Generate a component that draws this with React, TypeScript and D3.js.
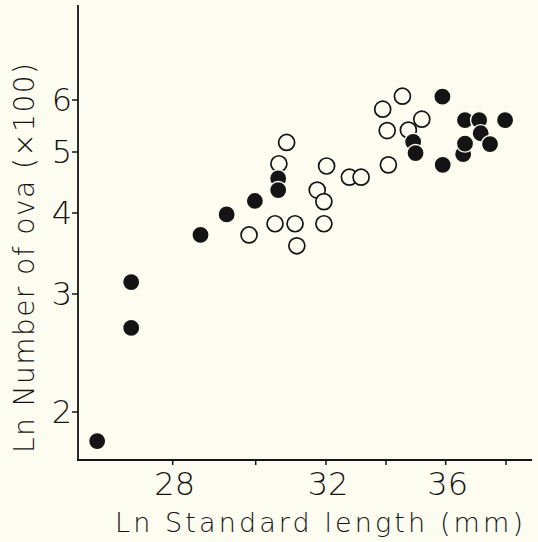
import React from 'react';
import * as d3 from 'd3';

// x ticks (mm) and y ticks (x100 ova)
const xTickValues = [28, 30, 32, 34, 36, 38];
const xTickLabels = [28, 32, 36];
const yTickValues = [2, 3, 4, 5, 6];

// filled circles: [standard length, ova x100]
const filledPoints: [number, number][] = [
  [26.18, 1.81], [27.0, 3.13], [27.0, 2.67], [28.67, 3.7], [29.3, 3.98],
  [29.98, 4.18], [30.64, 4.54], [30.64, 4.35], [34.91, 5.18], [34.99, 4.98],
  [35.89, 6.07], [35.9, 4.77], [36.58, 4.96], [36.64, 5.59], [36.64, 5.15],
  [37.11, 5.59], [37.16, 5.34], [37.47, 5.14], [37.97, 5.59],
];

// open circles
const openPoints: [number, number][] = [
  [29.84, 3.7], [30.55, 3.85], [31.12, 3.85], [31.17, 3.56], [30.66, 4.79],
  [30.88, 5.17], [31.75, 4.35], [31.94, 4.17], [31.94, 3.85], [32.02, 4.75],
  [32.78, 4.56], [33.17, 4.56], [33.89, 5.81], [34.04, 5.39], [34.08, 4.77],
  [34.55, 6.08], [34.75, 5.4], [35.2, 5.61],
];

const W = 538;
const H = 542;
const bg = '#fdfcf0';
const ink = '#141414';
const font = '"DejaVu Sans", Verdana, sans-serif';

const App: React.FC = () => {
  // the printed axes are hand-ruled, so the tick spacing is uneven
  const x = d3.scaleLinear()
    .domain(xTickValues)
    .range([172.7, 255.7, 326, 386, 445.7, 506]);
  const y = d3.scaleLog()
    .domain(yTickValues)
    .range([412, 294, 213, 152, 100]);

  const axisX = 78;
  const axisY = 460;

  return (
    <svg width={W} height={H} style={{ position: 'absolute', left: 0, top: 0, background: bg }}>
      <rect width={W} height={H} fill={bg} />

      {/* axes */}
      <line x1={axisX} y1={5} x2={axisX} y2={axisY} stroke={ink} strokeWidth={1.8} />
      <line x1={axisX - 1} y1={axisY} x2={532} y2={axisY} stroke={ink} strokeWidth={1.8} />

      {xTickValues.map(v => (
        <line key={'xt' + v} x1={x(v)} x2={x(v)} y1={axisY} y2={axisY + 5} stroke={ink} strokeWidth={1.5} />
      ))}
      {xTickLabels.map(v => (
        <text key={'xl' + v} x={x(v) + 2} y={495} textAnchor="middle"
          fontFamily={font} fontWeight={200} fontSize={32} fill={ink}>{v}</text>
      ))}

      {yTickValues.map(v => (
        <g key={'yt' + v}>
          <line x1={axisX - 6} x2={axisX} y1={y(v)} y2={y(v)} stroke={ink} strokeWidth={1.5} />
          <text x={axisX - 6} y={y(v) + 11} textAnchor="end"
            fontFamily={font} fontWeight={200} fontSize={32} fill={ink}>{v}</text>
        </g>
      ))}

      {/* axis titles */}
      <text x={115} y={532} fontFamily={font} fontWeight={200} fontSize={27} fill={ink}
        textLength={408} lengthAdjust="spacing">Ln Standard length (mm)</text>
      <text transform="translate(34,453) rotate(-90)" fontFamily={font} fontWeight={200}
        fontSize={28} fill={ink} textLength={390} lengthAdjust="spacing">Ln Number of ova (×100)</text>

      {/* open circles underneath, filled ones drawn over them */}
      {openPoints.map((d, i) => (
        <circle key={'o' + i} cx={x(d[0])} cy={y(d[1])} r={8} fill={bg} stroke={ink} strokeWidth={1.7} />
      ))}
      {filledPoints.map((d, i) => (
        <circle key={'f' + i} cx={x(d[0])} cy={y(d[1])} r={8.6} fill={ink} stroke={bg} strokeWidth={1.4} />
      ))}
    </svg>
  );
};

export default App;
